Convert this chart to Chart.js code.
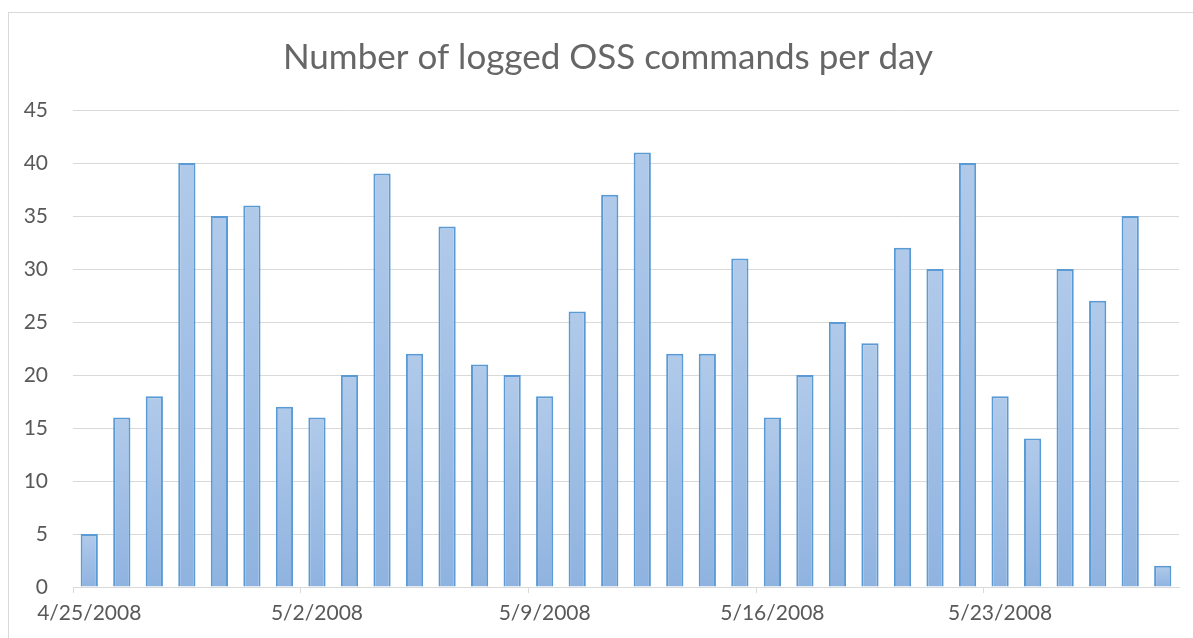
<!DOCTYPE html>
<html>
<head>
<meta charset="utf-8">
<script src="https://cdn.jsdelivr.net/npm/chart.js@4/dist/chart.umd.min.js"></script>
<style>
  html, body { margin:0; padding:0; background:#fff; overflow:hidden; }
  #wrap { position:relative; width:1193px; height:638px; }
  #frame { position:absolute; left:8px; top:12px; width:1300px; height:700px; border:1px solid #d9d9d9; }
  canvas { position:absolute; left:0; top:0; }
</style>
</head>
<body>
<div id="wrap">
  <div id="frame"></div>
  <canvas id="chart" width="1193" height="638"></canvas>
</div>
<script>
const days = [
  "4/25/2008","4/26/2008","4/27/2008","4/28/2008","4/29/2008","4/30/2008","5/1/2008",
  "5/2/2008","5/3/2008","5/4/2008","5/5/2008","5/6/2008","5/7/2008","5/8/2008",
  "5/9/2008","5/10/2008","5/11/2008","5/12/2008","5/13/2008","5/14/2008","5/15/2008",
  "5/16/2008","5/17/2008","5/18/2008","5/19/2008","5/20/2008","5/21/2008","5/22/2008",
  "5/23/2008","5/24/2008","5/25/2008","5/26/2008","5/27/2008","5/28/2008"
];
const commands = [5,16,18,40,35,36,17,16,20,39,22,34,21,20,18,26,37,41,22,22,31,16,20,25,23,32,30,40,18,14,30,27,35,2];
const yTicks = [0,5,10,15,20,25,30,35,40,45];

const labelEvery = 7;
const textColor = "#595959";
const fontName = "Lato, 'Open Sans', sans-serif";

function barFill(context){
  const chart = context.chart;
  const y = chart.scales.y;
  if(!chart.chartArea || !y) return "#a3c1e6";
  const v = context.parsed ? context.parsed.y : commands[context.dataIndex];
  const top = y.getPixelForValue(v);
  const bottom = y.getPixelForValue(0);
  if(!isFinite(top) || bottom - top < 1) return "#a3c1e6";
  const g = chart.ctx.createLinearGradient(0, top, 0, bottom);
  g.addColorStop(0, "#b1caea");
  g.addColorStop(1, "#8fb3e0");
  return g;
}

// the title sits centred on the whole (wider) chart frame, not the plot box
const shiftTitle = {
  id: "shiftTitle",
  afterLayout(chart){
    if(chart.titleBlock) chart.titleBlock.left += 27;
  }
};

new Chart(document.getElementById("chart").getContext("2d"), {
  type: "bar",
  data: {
    labels: days,
    datasets: [{
      data: commands,
      backgroundColor: barFill,
      borderColor: "#5b9bd5",
      borderWidth: 2,
      borderSkipped: "bottom",
      categoryPercentage: 1,
      barPercentage: 0.53
    }]
  },
  plugins: [shiftTitle],
  options: {
    responsive: false,
    animation: false,
    layout: { padding: { left: 10, right: 14, top: 0, bottom: 0 } },
    plugins: {
      legend: { display: false },
      tooltip: { enabled: false },
      title: {
        display: true,
        text: "Number of logged OSS commands per day",
        color: "#666666",
        font: { family: fontName, size: 35, weight: "normal" },
        padding: { top: 37, bottom: 31 }
      }
    },
    scales: {
      x: {
        offset: true,
        grid: {
          offset: true,
          drawOnChartArea: false,
          drawTicks: true,
          tickLength: 6,
          color: ctx => (ctx.index % labelEvery === 0 ? "#d9d9d9" : "rgba(0,0,0,0)")
        },
        border: { color: "#d9d9d9", width: 1 },
        ticks: {
          autoSkip: false,
          maxRotation: 0,
          color: textColor,
          font: { family: fontName, size: 21 },
          padding: 8,
          callback: function(val, i){ return i % labelEvery === 0 ? days[i] : ""; }
        },
        afterFit: s => { s.height = 51; }
      },
      y: {
        min: 0,
        max: 45,
        afterBuildTicks: s => { s.ticks = yTicks.map(v => ({ value: v })); },
        grid: { color: "#d9d9d9", drawTicks: false },
        border: { display: false },
        ticks: {
          color: textColor,
          font: { family: fontName, size: 21 },
          padding: 25
        },
        afterFit: s => { s.width = 63; }
      }
    }
  }
});
</script>
</body>
</html>
